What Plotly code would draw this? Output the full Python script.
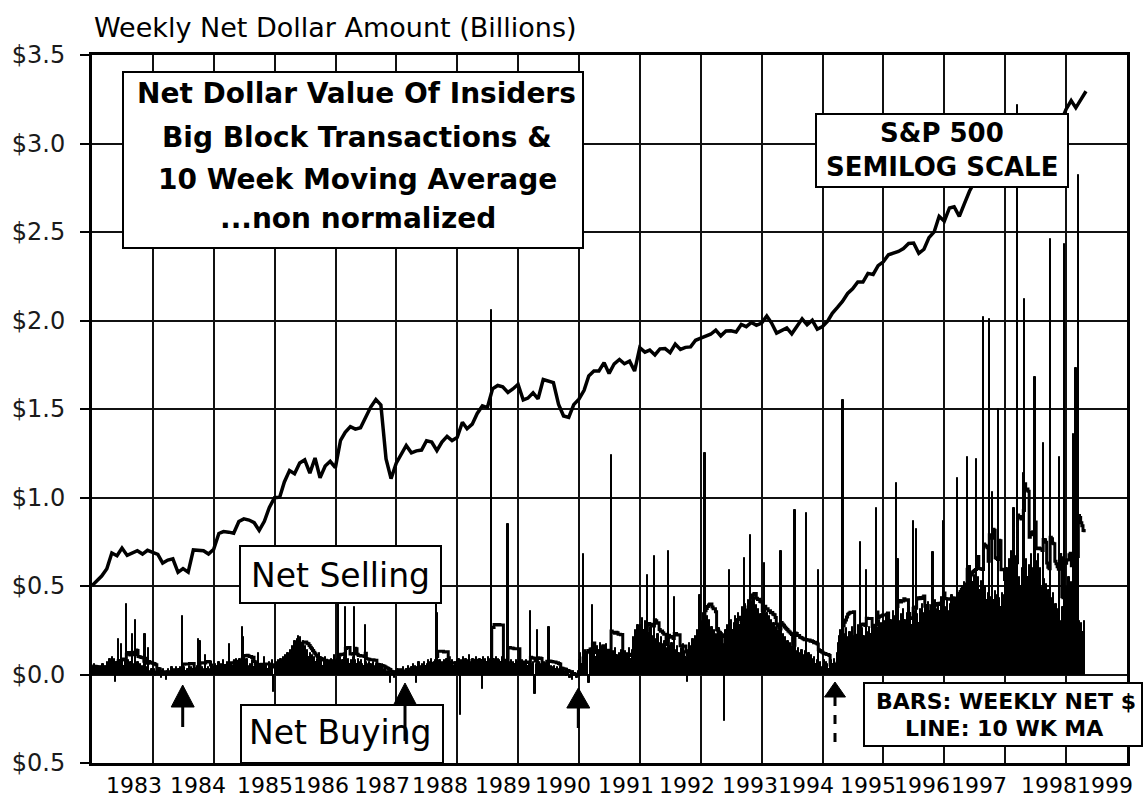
import pandas as pd
import plotly.graph_objects as go

# Weekly net dollar value of insiders' big block transactions ($ billions)
# 52 weekly readings per year (1999 is partial)
net_1983 = [0.05, 0.03, 0.06, 0.04, 0.02, 0.05, 0.03, 0.05, 0.04, 0.06, 0.03, 0.05, 0.04, 0.07, 0.05, 0.09, 0.06, 0.10, 0.08, 0.09, -0.04, 0.07, 0.20, 0.06, 0.08, 0.17,
            0.07, 0.05, 0.08, 0.40, 0.06, 0.08, 0.05, 0.07, 0.23, 0.06, 0.04, 0.31, 0.05, 0.07, 0.04, 0.06, 0.03, 0.05, 0.04, 0.23, 0.03, 0.04, 0.15, 0.02, 0.01, 0.03]
net_1984 = [0.02, 0.03, -0.01, 0.02, 0.03, 0.01, 0.02, -0.02, 0.02, 0.03, 0.01, -0.03, 0.02, 0.03, 0.01, 0.02, 0.04, 0.02, 0.03, 0.02, 0.04, 0.02, 0.03, 0.04, 0.02, 0.33,
            0.03, 0.04, 0.02, 0.03, 0.03, 0.05, 0.02, 0.04, 0.03, 0.04, 0.02, 0.03, 0.05, 0.20, 0.19, 0.03, 0.04, 0.02, 0.03, 0.11, 0.03, 0.04, 0.02, 0.03, 0.05, 0.03]
net_1985 = [0.04, 0.06, 0.03, 0.05, 0.07, 0.04, 0.06, 0.03, 0.08, 0.05, 0.04, 0.07, 0.05, 0.17, 0.05, 0.06, 0.05, 0.08, 0.06, 0.09, 0.07, 0.06, 0.09, 0.07, 0.27, 0.21,
            0.08, 0.06, 0.09, 0.05, 0.04, 0.06, 0.03, 0.08, 0.04, 0.05, 0.03, 0.07, 0.12, 0.04, 0.06, 0.03, 0.05, 0.10, 0.04, 0.06, 0.03, 0.07, 0.05, 0.04, 0.08, -0.10]
net_1986 = [0.05, 0.07, 0.04, 0.08, 0.06, 0.09, 0.07, 0.10, 0.08, 0.11, 0.09, 0.12, 0.10, 0.14, 0.12, 0.16, 0.15, 0.19, 0.17, 0.20, 0.22, 0.18, 0.21, 0.17, 0.19, 0.15,
            0.16, 0.12, 0.14, 0.10, 0.12, 0.09, 0.11, 0.08, 0.10, 0.07, 0.09, 0.06, 0.12, 0.07, 0.08, 0.05, 0.07, 0.10, 0.06, 0.08, 0.05, 0.07, 0.09, 0.06, 0.08, 0.11]
net_1987 = [0.06, 0.09, 0.42, 0.07, 0.10, 0.06, 0.08, 0.10, 0.38, 0.15, 0.07, 0.09, 0.06, 0.08, 0.07, 0.10, 0.38, 0.08, 0.06, 0.09, 0.07, 0.05, 0.08, 0.06, 0.05, 0.28,
            0.07, 0.06, 0.05, 0.07, 0.06, 0.05, 0.07, 0.05, 0.04, 0.06, 0.05, 0.04, 0.06, 0.03, 0.04, 0.02, 0.03, 0.01, 0.02, 0.01, 0.02, -0.05, 0.01, 0.02, -0.02, 0.02]
net_1988 = [0.02, 0.03, 0.01, 0.03, 0.02, 0.03, 0.04, 0.02, 0.03, 0.03, 0.05, 0.03, 0.03, 0.04, 0.06, 0.03, 0.05, -0.05, 0.04, 0.07, 0.05, 0.03, 0.06, 0.04, 0.07, 0.05,
            0.06, 0.08, 0.05, 0.07, 0.09, 0.06, 0.07, 0.08, 0.40, 0.35, 0.06, 0.08, 0.05, 0.07, 0.05, 0.08, 0.06, 0.09, 0.05, 0.07, 0.05, 0.06, 0.08, 0.05, 0.07, 0.05]
net_1989 = [0.08, 0.09, -0.23, 0.08, 0.07, 0.10, 0.07, 0.09, 0.06, 0.08, 0.11, 0.07, 0.06, 0.09, 0.08, 0.06, 0.10, 0.07, 0.06, 0.09, 0.08, -0.08, 0.10, 0.08, 0.09, 0.07,
            0.10, 0.08, 0.09, 2.06, 0.07, 0.09, 0.08, 0.10, 0.06, 0.09, 0.08, 0.07, 0.10, 0.06, 0.08, 0.07, 0.06, 0.85, 0.07, 0.06, 0.08, 0.05, 0.07, 0.06, 0.08, 0.07]
net_1990 = [0.07, 0.09, 0.06, 0.08, 0.05, 0.07, 0.06, 0.08, 0.05, 0.07, 0.36, 0.06, 0.05, 0.07, -0.11, 0.06, 0.25, 0.05, 0.07, 0.04, 0.06, 0.05, 0.07, 0.04, 0.06, 0.05,
            0.27, 0.04, 0.05, 0.03, 0.04, 0.05, 0.03, 0.04, 0.02, 0.03, 0.04, 0.02, 0.03, 0.01, 0.02, -0.01, 0.02, 0.01, -0.02, 0.01, -0.03, 0.02, -0.01, 0.01, -0.02, 0.02]
net_1991 = [0.08, 0.12, 0.06, 0.68, 0.10, 0.14, 0.07, 0.11, -0.05, 0.13, 0.09, 0.39, 0.12, 0.15, 0.10, 0.16, 0.11, 0.14, 0.18, 0.12, 0.15, 0.10, 0.13, 0.17, 0.11, 0.14,
            0.12, 1.24, 0.10, 0.13, 0.09, 0.15, 0.11, 0.08, 0.12, 0.10, 0.14, 0.09, 0.11, 0.13, 0.08, 0.12, 0.10, 0.15, 0.09, 0.14, 0.21, 0.16, 0.25, 0.19, 0.28, 0.22]
net_1992 = [0.28, 0.22, 0.32, 0.25, 0.30, 0.21, 0.56, 0.24, 0.19, 0.27, 0.22, 0.18, 0.67, 0.20, 0.16, 0.23, 0.18, 0.14, 0.21, 0.17, 0.13, 0.19, 0.15, 0.12, 0.70, 0.16,
            0.13, 0.18, 0.11, 0.44, 0.14, 0.10, 0.16, 0.12, 0.09, 0.15, 0.11, 0.17, 0.13, 0.10, -0.04, 0.14, 0.18, 0.12, 0.16, 0.20, 0.15, 0.22, 0.18, 0.25, 0.21, 0.45]
net_1993 = [0.30, 0.24, 0.35, 1.25, 0.28, 0.33, 0.26, 0.31, 0.22, 0.27, 0.20, 0.25, 0.18, 0.23, 0.21, 0.26, 0.19, 0.24, 0.22, 0.17, -0.26, 0.25, 0.28, 0.23, 0.59, 0.27,
            0.31, 0.25, 0.29, 0.33, 0.26, 0.30, 0.35, 0.28, 0.32, 0.38, 0.34, 0.66, 0.40, 0.36, 0.42, 0.38, 0.79, 0.41, 0.37, 0.44, 0.35, 0.39, 0.33, 0.37, 0.30, 0.34]
net_1994 = [0.32, 0.38, 0.63, 0.30, 0.35, 0.28, 0.33, 0.26, 0.31, 0.25, 0.29, 0.22, 0.27, 0.20, 0.25, 0.19, 0.70, 0.18, 0.23, 0.16, 0.21, 0.15, 0.19, 0.14, 0.18, 0.12,
            0.16, 0.11, 0.93, 0.13, 0.10, 0.15, 0.09, 0.12, 0.14, 0.08, 0.11, 0.13, 0.91, 0.10, 0.12, 0.08, 0.11, 0.09, 0.07, 0.10, 0.06, 0.08, 0.59, 0.05, 0.07, 0.04]
net_1995 = [0.05, 0.08, 0.04, 0.07, 0.06, 0.03, 0.05, 0.08, 0.04, 0.06, 0.09, 0.05, 0.12, 0.18, 0.22, 0.25, 0.20, 1.55, 0.23, 0.19, 0.26, 0.21, 0.17, 0.24, 0.20, 0.27,
            0.22, 0.18, 0.25, 0.21, 0.28, 0.23, 0.75, 0.20, 0.26, 0.22, 0.19, 0.59, 0.24, 0.21, 0.27, 0.23, 0.30, 0.25, 0.28, 0.22, 0.94, 0.26, 0.31, 0.24, 0.29, 0.27]
net_1996 = [0.30, 0.25, 0.33, 0.28, 0.35, 0.27, 0.31, 0.24, 0.36, 0.29, 0.33, 1.08, 0.65, 0.30, 0.27, 0.34, 0.29, 0.37, 0.31, 0.26, 0.35, 0.30, 0.38, 0.33, 0.28, 0.87,
            0.36, 0.31, 0.82, 0.34, 0.29, 0.37, 0.32, 0.40, 0.35, 0.30, 0.38, 0.33, 0.41, 0.36, 0.31, 0.39, 0.69, 0.35, 0.42, 0.37, 0.33, 0.40, 0.36, 0.44, 0.38, 0.87]
net_1997 = [0.38, 0.33, 0.42, 0.36, 0.31, 0.40, 0.45, 0.37, 0.43, 0.39, 0.35, 1.11, 0.41, 0.47, 0.43, 0.50, 0.45, 0.52, 0.48, 1.23, 0.50, 0.55, 0.49, 0.58, 0.52, 0.56,
            0.50, 1.22, 0.52, 0.55, 0.48, 0.53, 0.47, 2.02, 0.45, 0.50, 0.42, 0.46, 2.01, 0.44, 0.40, 1.03, 0.42, 0.47, 0.40, 0.45, 1.50, 0.43, 0.38, 0.46, 0.41, 0.45]
net_1998 = [0.52, 0.60, 0.48, 0.65, 0.56, 0.70, 0.61, 0.94, 0.58, 0.67, 3.22, 0.45, 0.55, 0.50, 0.60, 1.14, 2.12, 0.58, 0.65, 0.55, 0.62, 0.58, 0.68, 0.55, 0.60, 1.68,
            0.64, 0.56, 0.68, 0.52, 0.60, 0.49, 1.31, 0.54, 0.45, 0.51, 0.40, 0.48, 2.46, 0.43, 0.35, 0.46, 0.32, 0.40, 0.28, 0.37, 1.23, 0.30, 0.25, 0.38, 2.43, 0.33]
net_1999 = [0.50, 0.42, 0.55, 0.46, 0.52, 0.40, 1.36, 0.38, 1.73, 0.35, 2.82, 0.30, 0.26, 0.29, 0.24, 0.30]

weekly_net = {1983: net_1983, 1984: net_1984, 1985: net_1985, 1986: net_1986, 1987: net_1987, 1988: net_1988,
              1989: net_1989, 1990: net_1990, 1991: net_1991, 1992: net_1992, 1993: net_1993, 1994: net_1994,
              1995: net_1995, 1996: net_1996, 1997: net_1997, 1998: net_1998, 1999: net_1999}

# S&P 500 month-end closes, Jan 1983 - Apr 1999 (plotted on a semilog scale)
sp500_first = 142.0
sp500_close = [145.3, 148.1, 153.0, 164.4, 162.4, 168.1, 162.6, 164.4, 166.1, 163.6, 166.4, 164.9,
               163.4, 157.1, 159.2, 160.1, 150.6, 153.2, 150.7, 166.7, 166.1, 166.1, 163.6, 167.2,
               179.6, 181.2, 180.7, 179.8, 189.6, 191.9, 190.9, 188.6, 182.1, 189.8, 202.2, 211.3,
               211.8, 226.9, 238.9, 235.5, 247.4, 250.8, 236.1, 252.9, 231.3, 244.0, 249.2, 242.2,
               274.1, 284.2, 291.7, 288.4, 290.1, 304.0, 318.7, 329.8, 321.8, 251.8, 230.3, 247.1,
               257.1, 267.8, 258.9, 261.3, 262.2, 273.5, 272.0, 261.5, 271.9, 279.0, 273.7, 277.7,
               297.5, 288.9, 294.9, 309.6, 320.5, 318.0, 346.1, 351.5, 349.2, 340.4, 346.0, 353.4,
               329.1, 331.9, 339.9, 330.8, 361.2, 358.0, 356.2, 322.6, 306.1, 304.0, 322.2, 330.2,
               343.9, 367.1, 375.2, 375.3, 389.8, 371.2, 387.8, 395.4, 387.9, 392.5, 375.2, 417.1,
               408.8, 412.7, 403.7, 415.0, 415.4, 408.1, 424.2, 414.0, 417.8, 418.7, 431.4, 435.7,
               438.8, 443.4, 451.7, 440.2, 450.2, 450.5, 448.1, 463.6, 458.9, 467.8, 461.8, 466.5,
               481.6, 467.1, 445.8, 450.9, 456.5, 444.3, 458.3, 475.5, 462.7, 472.4, 453.7, 459.3,
               470.4, 487.4, 500.7, 514.7, 533.4, 544.8, 562.1, 561.9, 584.4, 581.5, 605.4, 615.9,
               636.0, 640.4, 645.5, 654.2, 669.1, 670.6, 640.0, 652.0, 687.3, 705.3, 757.0, 740.7,
               786.2, 790.8, 757.1, 801.3, 848.3, 885.1, 954.3, 899.5, 947.3, 914.6, 955.4, 970.4,
               980.3, 1049.3, 1101.8, 1111.8, 1090.8, 1133.8, 1120.7, 957.3, 1017.0, 1098.7, 1163.6, 1229.2,
               1279.6, 1238.3, 1286.4, 1335.2]

year_labels = ["1983", "1984", "1985", "1986", "1987", "1988", "1989", "1990", "1991",
               "1992", "1993", "1994", "1995", "1996", "1997", "1998", "1999"]
y_ticks = [-0.5, 0.0, 0.5, 1.0, 1.5, 2.0, 2.5, 3.0, 3.5]
y_tick_text = ["$0.5", "$0.0", "$0.5", "$1.0", "$1.5", "$2.0", "$2.5", "$3.0", "$3.5"]

# assemble the weekly series
dates, values = [], []
for year, vals in weekly_net.items():
    for i, v in enumerate(vals):
        dates.append(pd.Timestamp(year, 1, 1) + pd.Timedelta(days=7 * i + 3))
        values.append(v)
net = pd.Series(values, index=dates)
ma10 = net.rolling(10, min_periods=1).mean()

sp_dates = [pd.Timestamp("1983-01-03")] + list(pd.date_range("1983-01-31", periods=len(sp500_close), freq="ME"))
sp_values = [sp500_first] + sp500_close

# page geometry (pixels) -> paper coordinates
L, R, T, B = 92, 1127, 55, 763
W, H = R - L, B - T


def px(x):
    return (x - L) / W


def py(y):
    return (B - y) / H


fig = go.Figure()

fig.add_trace(go.Bar(
    x=net.index, y=net.values,
    width=7 * 86400000,
    marker=dict(color="black", line=dict(color="black", width=1)),
    name="Weekly net $"
))

fig.add_trace(go.Scatter(
    x=ma10.index, y=ma10.values,
    mode="lines", line=dict(color="black", width=3, shape="hv"),
    name="10 wk MA"
))

fig.add_trace(go.Scatter(
    x=sp_dates, y=sp_values, yaxis="y2",
    mode="lines", line=dict(color="black", width=3.5),
    name="S&P 500"
))

font_main = "DejaVu Sans, Verdana, sans-serif"

fig.update_layout(
    width=1144, height=799, autosize=False,
    margin=dict(l=L, r=1144 - R, t=T, b=799 - B),
    paper_bgcolor="white", plot_bgcolor="white",
    showlegend=False, bargap=0,
    font=dict(family=font_main, color="black"),
    xaxis=dict(
        type="date", range=["1983-01-01", "2000-01-01"],
        tick0="1983-01-01", dtick="M12",
        showticklabels=False, ticks="",
        showgrid=True, gridcolor="#111", gridwidth=1.5,
        showline=True, linecolor="black", linewidth=3, mirror=True,
        zeroline=False
    ),
    yaxis=dict(
        range=[-0.5, 3.5], tickvals=y_ticks, ticktext=y_tick_text,
        ticks="outside", ticklen=9, tickwidth=2, tickcolor="black",
        tickfont=dict(size=24, color="#1a1a1a", family=font_main),
        ticklabelstandoff=10,
        showgrid=True, gridcolor="#111", gridwidth=1.5,
        showline=True, linecolor="black", linewidth=3, mirror=True,
        zeroline=False
    ),
    yaxis2=dict(
        type="log", range=[1.8022, 3.1969], overlaying="y",
        showgrid=False, showticklabels=False, showline=False, zeroline=False, ticks=""
    ),
)

shapes = []
annotations = []


def box(x0, y0, x1, y1):
    shapes.append(dict(type="rect", xref="paper", yref="paper", layer="above",
                       x0=px(x0), x1=px(x1), y0=py(y1), y1=py(y0),
                       fillcolor="white", line=dict(color="black", width=2)))


def text(x, y, s, size, bold=False, anchor="center"):
    annotations.append(dict(xref="paper", yref="paper", x=px(x), y=py(y), text=s,
                            showarrow=False, xanchor=anchor, yanchor="middle",
                            font=dict(family=font_main, size=size, color="black",
                                      weight="bold" if bold else "normal")))


def up_arrow(x, tip, base, tail, half=11.5, dashed=False):
    shapes.append(dict(type="line", xref="paper", yref="paper", layer="above",
                       x0=px(x), x1=px(x), y0=py(base), y1=py(tail),
                       line=dict(color="black", width=3, dash="dash" if dashed else "solid")))
    path = "M {},{} L {},{} L {},{} Z".format(px(x - half), py(base), px(x), py(tip), px(x + half), py(base))
    shapes.append(dict(type="path", xref="paper", yref="paper", layer="above", path=path,
                       fillcolor="black", line=dict(color="black", width=1)))


# title box
box(123, 72, 583, 248)
text(356, 94, "Net Dollar Value Of Insiders", 28, bold=True)
text(357, 137, "Big Block Transactions &", 28, bold=True)
text(357, 179, "10 Week Moving Average", 28, bold=True)
text(358, 219, "...non normalized", 28, bold=True)

# S&P box
box(816, 114, 1068, 187)
text(942, 133, "S&P 500", 26, bold=True)
text(942, 167, "SEMILOG SCALE", 26, bold=True)

# net selling / buying labels
box(240, 546, 441, 603)
text(340, 575, "Net Selling", 33)
box(241, 705, 443, 763)
text(340, 732, "Net Buying", 33)

# buying-point arrows
up_arrow(182.7, 685, 707, 727)
up_arrow(405, 683, 705, 741)
up_arrow(578.3, 688, 708, 728)
up_arrow(835, 682, 697, 748, half=10.5, dashed=True)

# legend box
box(864, 683, 1142, 746)
text(1006, 701, "BARS: WEEKLY NET $", 22, bold=True)
text(1004, 728, "LINE: 10 WK MA", 22, bold=True)

# axis title and year labels
text(92, 27, "Weekly Net Dollar Amount (Billions)", 27, anchor="left")
label_px = [134, 197.5, 265, 321, 382, 440, 503, 562.5, 626, 686.7, 750, 806, 868, 921.7, 979, 1049, 1105]
for lab, xc in zip(year_labels, label_px):
    text(xc, 785, lab, 22)

fig.update_layout(shapes=shapes, annotations=annotations)

# the page body has a default margin; remove it so the figure sits at the top-left corner
fig.write_html("out.html", config={"displayModeBar": False},
               post_script="document.body.style.margin='0';")
